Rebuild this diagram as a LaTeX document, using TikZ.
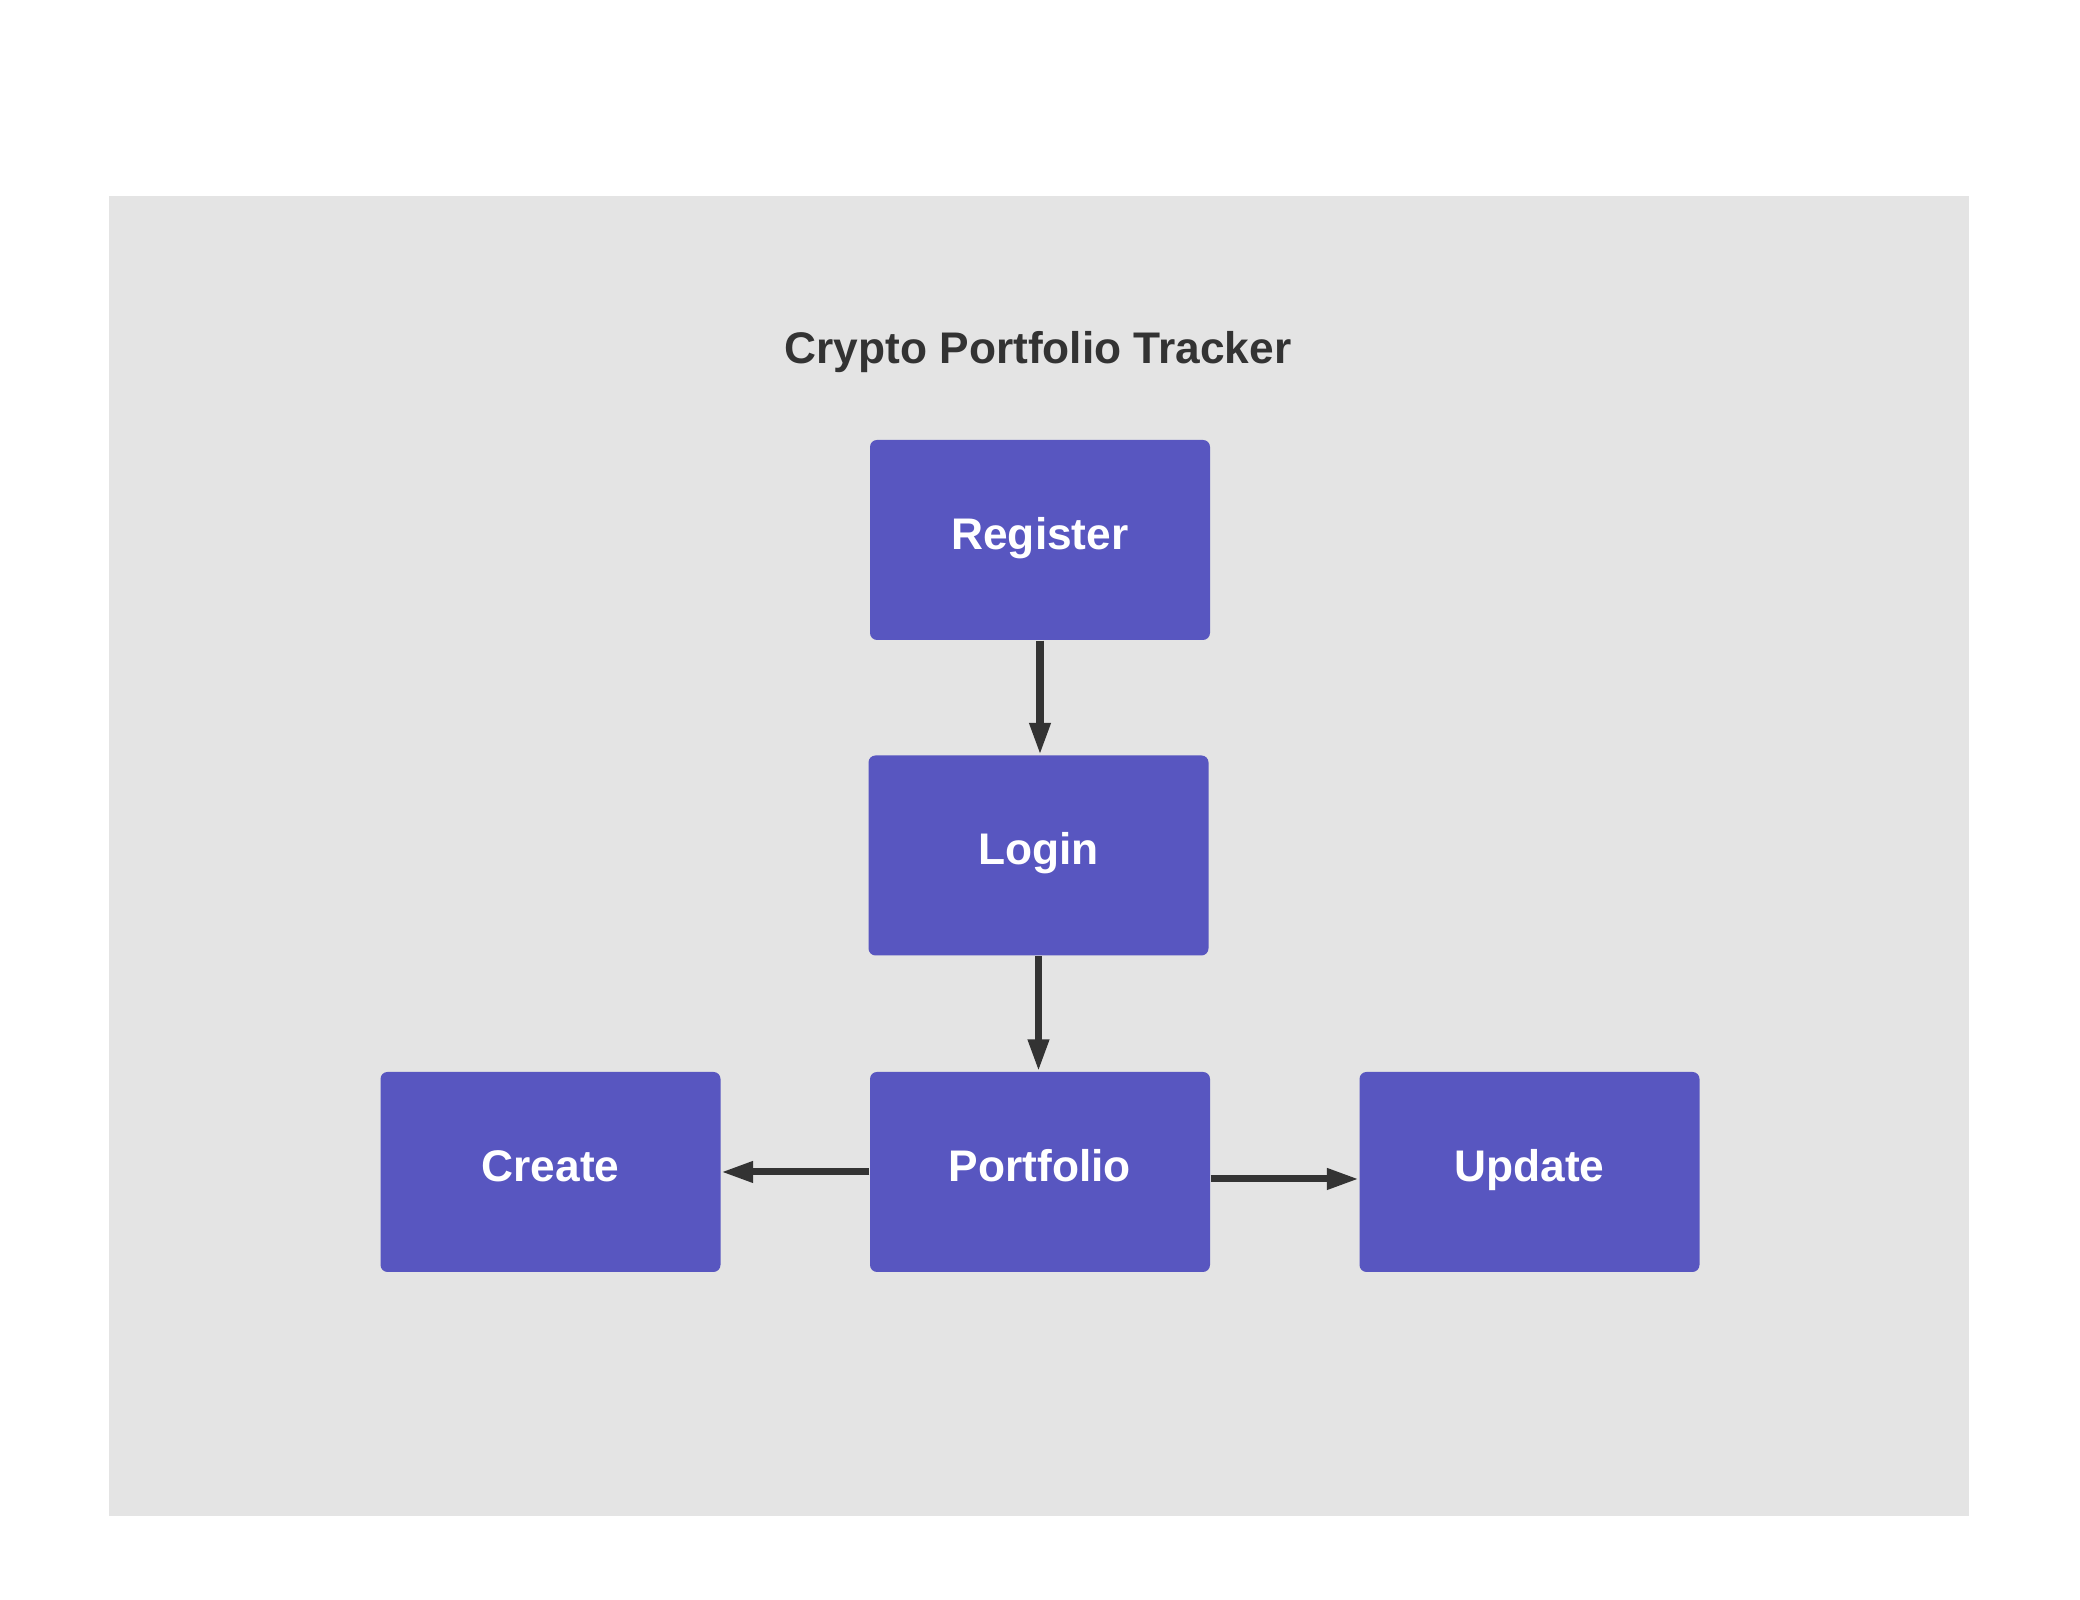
\documentclass[tikz,border=0pt]{standalone}
\usepackage{fontspec}
\setmainfont{Liberation Sans}
\usetikzlibrary{arrows.meta}
\definecolor{boxblue}{HTML}{5856C0}
\definecolor{panelgray}{HTML}{E4E4E4}
\definecolor{inkgray}{HTML}{333333}
\begin{document}
\begin{tikzpicture}[
    stepbox/.style={fill=boxblue,rounded corners=2pt,minimum width=3.4cm,minimum height=2cm,inner sep=0pt,text height=8pt,text depth=2.7pt,text=white,font=\fontsize{12.6}{15}\selectfont\bfseries},
    flow/.style={draw=inkgray,line width=2pt,-{Triangle[length=0.32cm,width=0.2cm]}}
]
    \useasboundingbox (0,0) rectangle (20.8,16);
    \fill[white] (0,0) rectangle (20.8,16);
    \fill[panelgray] (1.09,0.84) rectangle (19.69,14.04);
    \node[text=inkgray,font=\fontsize{12.6}{15}\selectfont\bfseries] (title) at (10.38,12.48) {Crypto Portfolio Tracker};
    \node[stepbox] (register) at (10.40,10.60) {Register};
    \node[stepbox] (login) at (10.385,7.445) {Login};
    \node[stepbox] (portfolio) at (10.40,4.28) {Portfolio};
    \node[stepbox] (create) at (5.505,4.28) {Create};
    \node[stepbox] (update) at (15.295,4.28) {Update};
    \draw[flow] (register) -- (register|-login.north);
    \draw[flow] (login) -- (login|-portfolio.north);
    \draw[flow] (portfolio.west) -- (create.east);
    \draw[flow] ([yshift=-0.07cm]portfolio.east) -- ([yshift=-0.07cm]update.west);
\end{tikzpicture}
\end{document}
